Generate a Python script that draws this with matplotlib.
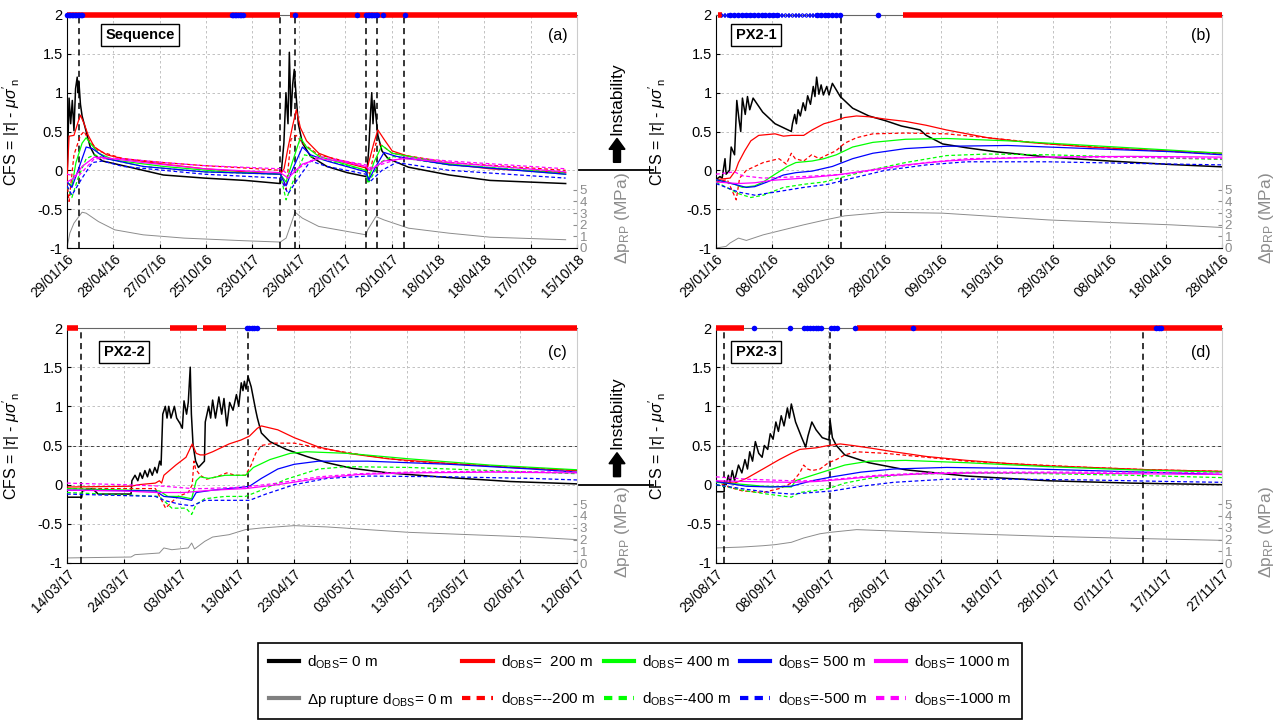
import matplotlib
matplotlib.use('Agg')
import matplotlib.pyplot as plt
from matplotlib.lines import Line2D
from matplotlib.patches import FancyArrow

plt.rcParams['font.family'] = ['Liberation Sans', 'DejaVu Sans']
plt.rcParams['mathtext.fontset'] = 'custom'
plt.rcParams['mathtext.rm'] = 'Liberation Sans'
plt.rcParams['mathtext.it'] = 'Liberation Sans:italic'
plt.rcParams['mathtext.bf'] = 'Liberation Sans:bold'

W, H = 1285, 728

# ---- tick labels (x ticks are equally spaced, days from panel start) ----
A_TICKLABELS = ['29/01/16', '28/04/16', '27/07/16', '25/10/16', '23/01/17', '23/04/17',
                '22/07/17', '20/10/17', '18/01/18', '18/04/18', '17/07/18', '15/10/18']
B_TICKLABELS = ['29/01/16', '08/02/16', '18/02/16', '28/02/16', '09/03/16', '19/03/16',
                '29/03/16', '08/04/16', '18/04/16', '28/04/16']
C_TICKLABELS = ['14/03/17', '24/03/17', '03/04/17', '13/04/17', '23/04/17', '03/05/17',
                '13/05/17', '23/05/17', '02/06/17', '12/06/17']
D_TICKLABELS = ['29/08/17', '08/09/17', '18/09/17', '28/09/17', '08/10/17', '18/10/17',
                '28/10/17', '07/11/17', '17/11/17', '27/11/17']
A_STEP, B_STEP, C_STEP, D_STEP = 90, 10, 10, 10
Y_TICKS = [-1, -0.5, 0, 0.5, 1, 1.5, 2]
Y_TICKLABELS = ['-1', '-0.5', '0', '0.5', '1', '1.5', '2']
DP_TICKS = [0, 1, 2, 3, 4, 5]

# ---- (a) Sequence: (day, CFS) ----
A_BLACK = [(0, -0.1), (1.6, 0.3), (4, 0.93), (7.1, 0.6), (10.3, 0.9), (13.5, 0.51), (16.6, 1.05),
           (19.8, 1.2), (21.4, 1.0), (23, 1.15), (26.1, 0.85), (29.3, 0.7), (37.2, 0.5), (45.1, 0.3),
           (53.1, 0.2), (68.9, 0.12), (89.5, 0.09), (187, -0.06), (267, -0.1), (346, -0.13),
           (414, -0.17), (417, 0.05), (421, 0.35), (425, 1.0), (429, 0.6), (431.6, 1.52),
           (434.8, 0.7), (438, 1.1), (441.2, 1.3), (444.3, 1.0), (449, 0.6), (457, 0.35),
           (472.8, 0.18), (504.5, 0.05), (544, -0.03), (580.5, -0.08), (582, -0.05), (586, 0.3),
           (589.3, 0.75), (591.6, 1.0), (594, 0.6), (596.4, 0.9), (599.6, 0.7), (603.5, 0.45),
           (611.4, 0.25), (623.3, 0.15), (663, 0.04), (742, -0.06), (821, -0.13), (968, -0.17)]
A_RED = [(0, -0.15), (4, 0.44), (13.5, 0.45), (21.4, 0.62), (26.1, 0.71), (33.3, 0.6), (41.2, 0.45),
         (53.1, 0.3), (76.8, 0.2), (108.5, 0.15), (187.7, 0.08), (266.9, 0.02), (346, -0.02),
         (414, -0.05), (421.4, 0.02), (429.3, 0.3), (437.2, 0.55), (445, 0.78), (453, 0.55),
         (465, 0.38), (488.7, 0.22), (528.3, 0.12), (580.5, 0.03), (583.7, 0.05), (595.6, 0.35),
         (603.5, 0.52), (615.4, 0.4), (631.2, 0.25), (663, 0.18), (742, 0.08), (821, 0.02),
         (968, -0.03)]
A_RED_D = [(0, -0.15), (4, -0.4), (13.5, 0.2), (26.1, 0.45), (33.3, 0.5), (41.2, 0.4), (61, 0.25),
           (108.5, 0.15), (187.7, 0.1), (266.9, 0.06), (346, 0.03), (414, 0.0), (425.3, -0.25),
           (434.8, 0.4), (445, 0.45), (457, 0.35), (488.7, 0.2), (580.5, 0.05), (587.7, -0.05),
           (599.6, 0.35), (611.4, 0.32), (631.2, 0.22), (742, 0.1), (968, 0.0)]
A_GREEN = [(0, -0.15), (9.5, -0.2), (17.4, 0.1), (29.3, 0.35), (37.2, 0.42), (45.1, 0.35), (61, 0.22),
           (92.7, 0.13), (187.7, 0.05), (306.5, -0.02), (414, -0.05), (425.3, -0.15), (437.2, 0.1),
           (453, 0.42), (465, 0.3), (488.7, 0.18), (580.5, 0.0), (583.7, -0.15), (595.6, 0.1),
           (611.4, 0.32), (631.2, 0.22), (742, 0.08), (968, -0.05)]
A_GREEN_D = [(0, -0.2), (9.5, -0.35), (21.4, -0.1), (37.2, 0.15), (53.1, 0.2), (76.8, 0.15),
             (148, 0.05), (266.9, -0.02), (414, -0.05), (425.3, -0.38), (441.2, -0.1), (461, 0.2),
             (488.7, 0.15), (580.5, 0.0), (586, -0.15), (607.5, 0.1), (631.2, 0.18), (742, 0.07),
             (968, -0.03)]
A_BLUE = [(0, -0.15), (9.5, -0.22), (21.4, 0.0), (37.2, 0.3), (49.1, 0.28), (76.8, 0.15), (148, 0.05),
          (266.9, -0.02), (414, -0.05), (425.3, -0.2), (437.2, 0.0), (457, 0.3), (472.8, 0.2),
          (504.5, 0.12), (580.5, -0.02), (586, -0.12), (599.6, 0.05), (615.4, 0.23), (639.2, 0.18),
          (742, 0.07), (968, -0.05)]
A_BLUE_D = [(0, -0.2), (9.5, -0.32), (29.3, -0.1), (49.1, 0.1), (68.9, 0.12), (108.5, 0.05),
            (266.9, -0.05), (414, -0.1), (429.3, -0.3), (449, -0.1), (472.8, 0.12), (504.5, 0.05),
            (580.5, -0.05), (587.7, -0.15), (611.4, 0.0), (639.2, 0.1), (742, 0.0), (968, -0.1)]
A_MAG = [(0, -0.15), (13.5, -0.1), (29.3, 0.05), (53.1, 0.17), (76.8, 0.16), (148, 0.1),
         (266.9, 0.02), (414, -0.03), (429.3, -0.1), (457, 0.08), (488.7, 0.15), (528.3, 0.12),
         (580.5, 0.05), (587.7, 0.0), (615.4, 0.12), (655, 0.15), (742, 0.1), (968, -0.02)]
A_MAG_D = [(0, -0.05), (21.4, -0.08), (53.1, 0.15), (108.5, 0.15), (187.7, 0.1), (266.9, 0.06),
           (414, 0.02), (429.3, -0.05), (488.7, 0.18), (580.5, 0.07), (587.7, 0.03), (655, 0.17),
           (742, 0.12), (968, 0.02)]
A_DP = [(0, 0), (5.5, 1.28), (13.5, 2.13), (23, 2.7), (29.3, 3.07), (37.2, 2.99), (61, 2.27),
        (92.7, 1.56), (148, 1.13), (227, 0.85), (346, 0.62), (414, 0.51), (425.3, 0.85),
        (433.2, 1.85), (442.7, 3.07), (457, 2.56), (488.7, 1.85), (544, 1.42), (580.5, 1.13),
        (583.7, 1.56), (599.6, 2.7), (615.4, 2.41), (663, 1.7), (742, 1.27), (821, 0.93), (968, 0.71)]
A_EVENTS = [23, 414, 443, 581, 601, 655]
A_RED_SPANS = [(0, 414), (432, 990)]
A_BLUE_DOTS = [0.5, 3, 6, 9, 12, 15, 18, 21, 24, 27, 30, 320, 323, 326, 329, 332, 335, 338, 341,
               443, 563, 581, 584, 587, 590, 593, 596, 599, 601, 614, 657]
A_BLUE_X = []

# ---- (b) PX2-1 ----
B_BLACK = [(0, -0.12), (0.7, -0.08), (1.1, -0.1), (1.6, 0.15), (1.8, -0.05), (2.4, 0.0), (2.7, 0.3),
           (3.3, 0.2), (3.7, 0.9), (4.1, 0.65), (4.4, 0.5), (4.7, 0.93), (5.2, 0.72), (5.6, 0.95),
           (6.0, 0.78), (6.6, 0.93), (8.3, 0.75), (10.5, 0.6), (13.4, 0.5), (13.6, 0.6), (14.0, 0.72),
           (14.3, 0.6), (14.6, 0.78), (15.0, 0.7), (15.5, 0.87), (15.9, 0.77), (16.3, 0.96),
           (16.8, 0.85), (17.3, 1.08), (17.6, 0.95), (17.9, 1.2), (18.3, 0.98), (18.7, 1.1),
           (19.1, 0.97), (19.7, 1.08), (20.1, 0.97), (20.7, 1.12), (22.1, 0.95), (24.3, 0.8),
           (27.2, 0.7), (30.1, 0.64), (33.0, 0.57), (36.3, 0.52), (37.4, 0.45), (40.3, 0.34),
           (44.6, 0.29), (49.7, 0.24), (59.1, 0.17), (70.0, 0.12), (80.9, 0.075), (90, 0.045)]
B_RED = [(0, -0.12), (2.5, -0.1), (3.5, 0.0), (4.0, 0.1), (5.1, 0.25), (6.2, 0.38), (7.6, 0.45),
         (10.5, 0.47), (12, 0.44), (13.4, 0.45), (15.6, 0.45), (17.1, 0.52), (19.2, 0.6), (20.7, 0.63),
         (22.9, 0.68), (25.0, 0.7), (27.2, 0.69), (30.1, 0.66), (33.7, 0.63), (37.4, 0.58),
         (41.0, 0.52), (48.3, 0.42), (55.5, 0.36), (66.4, 0.3), (77.3, 0.26), (90, 0.22)]
B_RED_D = [(0, -0.15), (2.0, -0.12), (3.6, -0.38), (4.2, -0.1), (5.4, 0.0), (8.4, 0.1), (11.2, 0.15),
           (12.5, 0.08), (13.4, 0.22), (14.1, 0.15), (15.6, 0.12), (17.0, 0.2), (18.4, 0.15),
           (19.8, 0.2), (21.3, 0.25), (22.9, 0.35), (25.0, 0.42), (27.9, 0.47), (33.7, 0.48),
           (41.0, 0.47), (48.3, 0.42), (59.1, 0.34), (73.7, 0.27), (90, 0.21)]
B_GREEN = [(0, -0.12), (3.3, -0.18), (4.7, -0.22), (6.9, -0.2), (8.4, -0.15), (10.5, -0.05),
           (12.7, 0.05), (14.2, 0.1), (17.1, 0.12), (19.2, 0.15), (21.4, 0.2), (24.3, 0.3),
           (27.9, 0.36), (33.7, 0.4), (41, 0.41), (51.9, 0.38), (66.4, 0.32), (80.9, 0.26), (90, 0.22)]
B_GREEN_D = [(0, -0.15), (4.0, -0.3), (6.2, -0.35), (8.4, -0.32), (12.0, -0.22), (15.6, -0.18),
             (19.2, -0.15), (22.9, -0.08), (27.2, 0.0), (33.7, 0.1), (41, 0.19), (48.3, 0.21),
             (59.1, 0.2), (73.7, 0.17), (90, 0.14)]
B_BLUE = [(0, -0.12), (3.3, -0.18), (5.4, -0.22), (6.9, -0.21), (9.1, -0.15), (12.0, -0.06),
          (14.2, -0.03), (17.1, -0.01), (20.7, 0.05), (24.3, 0.15), (27.9, 0.22), (33.7, 0.28),
          (41, 0.31), (51.9, 0.32), (66.4, 0.28), (80.9, 0.24), (90, 0.2)]
B_BLUE_D = [(0, -0.17), (4.0, -0.28), (6.9, -0.32), (10.5, -0.28), (15.6, -0.22), (19.9, -0.18),
            (24.3, -0.1), (30.1, 0.0), (37.4, 0.07), (44.6, 0.11), (59.1, 0.11), (73.7, 0.09),
            (90, 0.07)]
B_MAG = [(0, -0.15), (4.0, -0.17), (6.9, -0.16), (9.8, -0.13), (15.6, -0.1), (21.4, -0.06),
         (27.2, 0.0), (33.7, 0.07), (41, 0.12), (48.3, 0.15), (59.1, 0.17), (73.7, 0.18), (90, 0.17)]
B_MAG_D = [(0, -0.05), (3.3, -0.02), (4.7, -0.07), (8.4, -0.1), (15.6, -0.08), (22.9, -0.05),
           (30.1, 0.02), (37.4, 0.1), (44.6, 0.15), (59.1, 0.17), (73.7, 0.17), (90, 0.15)]
B_DP = [(0, 0), (1.8, 0.14), (2.5, 0.43), (4.0, 0.85), (5.4, 0.65), (8.4, 1.13), (12.0, 1.56),
        (15.6, 1.99), (20.0, 2.47), (22.9, 2.76), (30.1, 3.07), (40.3, 2.99), (49.7, 2.7),
        (59.1, 2.41), (70.0, 2.19), (80.9, 1.99), (90, 1.76)]
B_EVENTS = [22.3]
B_RED_SPANS = [(0.3, 1.0), (33.3, 90)]
B_BLUE_DOTS = [2.5, 3.2, 3.9, 4.6, 5.3, 6.0, 6.7, 7.4, 8.1, 8.8, 9.5, 10.2, 10.8,
               18.0, 18.6, 19.3, 20.0, 20.6, 21.3, 22.0, 28.8]
B_BLUE_X = [1.2, 1.8, 2.4, 3.0, 3.6, 4.2, 4.8, 5.4, 6.0, 6.6, 7.2, 7.8, 8.4, 9.0, 9.6, 10.2,
            10.8, 11.4, 12.0, 12.6, 13.2, 13.8, 14.4, 15.0, 15.7, 16.3, 16.9, 17.4, 17.9]

# ---- (c) PX2-2 ----
C_BLACK = [(0, -0.16), (2.6, -0.16), (2.7, -0.08), (4.5, -0.05), (5.5, -0.12), (11.3, -0.12),
           (11.45, 0.05), (12.0, 0.12), (12.5, 0.05), (12.9, 0.15), (13.3, 0.08), (13.75, 0.18),
           (14.2, 0.1), (14.6, 0.2), (15.05, 0.12), (15.5, 0.22), (15.9, 0.15), (16.35, 0.3),
           (16.6, 0.25), (16.9, 0.9), (17.35, 1.0), (17.65, 0.85), (17.95, 1.0), (18.35, 0.85),
           (18.95, 1.0), (19.35, 0.85), (19.95, 0.78), (20.35, 0.72), (20.65, 1.07), (21.1, 0.9),
           (21.4, 1.05), (21.75, 1.5), (21.95, 0.9), (22.25, 0.5), (22.7, 0.3), (23.2, 0.22),
           (24.25, 0.3), (24.4, 0.8), (25.0, 1.0), (25.35, 0.85), (25.7, 1.08), (26.2, 0.85),
           (26.8, 1.12), (27.3, 0.9), (27.7, 1.1), (28.2, 0.75), (28.7, 1.05), (29.3, 0.95),
           (29.9, 1.15), (30.3, 1.0), (30.75, 1.3), (31.05, 1.2), (31.3, 1.32), (31.6, 1.22),
           (31.95, 1.38), (32.5, 1.25), (32.9, 1.1), (33.3, 0.95), (33.6, 0.85), (34.3, 0.66),
           (35.8, 0.55), (38.7, 0.45), (42.3, 0.36), (45.9, 0.28), (50.2, 0.21), (56.7, 0.15),
           (67.5, 0.09), (78.3, 0.04), (90, 0.01)]
C_RED = [(0, -0.03), (11.3, -0.02), (12.7, 0.0), (15.6, 0.02), (16.3, 0.05), (16.7, 0.02),
         (17.1, 0.12), (19.2, 0.25), (21.0, 0.35), (22.1, 0.52), (22.8, 0.4), (23.5, 0.38),
         (24.3, 0.38), (25.7, 0.42), (28.6, 0.52), (30.7, 0.57), (32.2, 0.62), (33.6, 0.72),
         (34.3, 0.75), (37.2, 0.7), (40.1, 0.6), (44.4, 0.48), (49.5, 0.4), (56.7, 0.33),
         (67.5, 0.27), (78.3, 0.22), (90, 0.18)]
C_RED_D = [(0, -0.05), (15.6, -0.05), (16.7, -0.2), (17.4, -0.3), (18.5, -0.22), (19.6, -0.15),
           (21.4, -0.1), (22.1, 0.0), (22.4, 0.3), (22.7, 0.2), (23.5, 0.12), (24.6, 0.07),
           (26.4, 0.1), (28.2, 0.15), (29.7, 0.12), (31.5, 0.12), (32.5, 0.25), (33.3, 0.4),
           (34.3, 0.5), (36.5, 0.53), (40.1, 0.53), (45.9, 0.45), (53.1, 0.37), (60.3, 0.3),
           (74.7, 0.24), (90, 0.18)]
C_GREEN = [(0, -0.05), (16.3, -0.08), (17.8, -0.15), (19.9, -0.15), (22.0, -0.18), (22.8, 0.05),
           (23.5, 0.1), (25.0, 0.08), (27.9, 0.12), (31.5, 0.12), (32.9, 0.22), (35.8, 0.32),
           (39.4, 0.4), (42.3, 0.42), (49.5, 0.4), (60.3, 0.33), (74.7, 0.25), (90, 0.19)]
C_GREEN_D = [(0, -0.1), (16.3, -0.15), (18.5, -0.3), (21.0, -0.3), (22.0, -0.38), (22.8, -0.25),
             (24.3, -0.18), (27.9, -0.15), (31.5, -0.15), (34.3, -0.07), (38.7, 0.07), (44.4, 0.2),
             (49.5, 0.23), (60.3, 0.22), (74.7, 0.18), (90, 0.14)]
C_BLUE = [(0, -0.07), (15.6, -0.08), (17.1, -0.15), (19.9, -0.17), (22.0, -0.2), (22.8, -0.1),
          (25.7, -0.07), (30.0, -0.04), (32.2, -0.02), (34.3, 0.08), (37.2, 0.2), (40.1, 0.26),
          (44.4, 0.3), (53.1, 0.3), (67.5, 0.26), (81.9, 0.2), (90, 0.16)]
C_BLUE_D = [(0, -0.12), (15.6, -0.15), (17.1, -0.2), (19.9, -0.25), (22.1, -0.27), (24.3, -0.2),
            (28.6, -0.2), (32.2, -0.2), (35.1, -0.12), (40.1, 0.0), (45.9, 0.08), (53.1, 0.11),
            (67.5, 0.1), (81.9, 0.08), (90, 0.06)]
C_MAG = [(0, -0.07), (9.9, -0.08), (15.6, -0.1), (20.7, -0.1), (25.7, -0.07), (31.5, -0.05),
         (37.2, 0.0), (44.4, 0.08), (51.6, 0.13), (60.3, 0.15), (74.7, 0.16), (90, 0.15)]
C_MAG_D = [(0, 0.02), (9.9, 0.0), (17.1, -0.02), (22.1, -0.05), (24.3, -0.05), (31.5, -0.03),
           (37.2, 0.02), (44.4, 0.1), (51.6, 0.14), (60.3, 0.16), (74.7, 0.17), (90, 0.16)]
C_DP = [(0, 0.43), (11.3, 0.51), (12.0, 0.71), (16.3, 0.85), (17.1, 1.28), (18.5, 1.13),
        (21.4, 1.28), (22.0, 1.7), (22.5, 1.19), (24.3, 1.84), (25.7, 2.21), (28.6, 2.41),
        (31.5, 2.84), (34.3, 2.98), (40.1, 3.18), (45.9, 3.07), (53.1, 2.84), (60.3, 2.61),
        (71.1, 2.41), (81.9, 2.21), (90, 1.99)]
C_EVENTS = [2.45, 32]
C_RED_SPANS = [(0, 1.9), (18.1, 23), (24, 28), (37.1, 90)]
C_BLUE_DOTS = [31.8, 32.2, 32.6, 33.0, 33.5]
C_BLUE_X = []

# ---- (d) PX2-3 ----
D_BLACK = [(0, -0.09), (1.45, -0.09), (1.5, 0.05), (1.8, 0.0), (2.2, 0.12), (2.5, 0.02), (2.9, 0.18),
           (3.3, 0.05), (4.0, 0.25), (4.6, 0.15), (5.15, 0.32), (5.6, 0.2), (6.0, 0.42), (6.5, 0.3),
           (7.0, 0.55), (7.6, 0.4), (8.2, 0.35), (8.6, 0.5), (9.2, 0.45), (9.65, 0.65), (10.15, 0.58),
           (10.65, 0.8), (11.1, 0.68), (11.6, 0.88), (12.1, 0.75), (12.7, 0.98), (13.05, 0.85),
           (13.4, 1.03), (14.15, 0.8), (15.25, 0.6), (15.95, 0.48), (16.35, 0.62), (17.05, 0.8),
           (17.8, 0.7), (18.9, 0.6), (20.1, 0.57), (20.3, 0.82), (20.7, 0.6), (21.4, 0.5),
           (22.9, 0.38), (27.2, 0.28), (33.7, 0.19), (44.6, 0.11), (59.1, 0.05), (73.7, 0.02),
           (90, 0.0)]
D_RED = [(0, 0.04), (3.3, 0.02), (5.4, 0.08), (8.35, 0.2), (11.25, 0.32), (13.4, 0.4), (14.9, 0.45),
         (16.3, 0.46), (17.8, 0.47), (20.0, 0.5), (22.1, 0.52), (24.3, 0.5), (27.2, 0.47),
         (31.6, 0.42), (37.4, 0.36), (44.6, 0.31), (51.9, 0.27), (59.1, 0.24), (66.4, 0.22),
         (77.3, 0.19), (90, 0.17)]
D_RED_D = [(0, 0.05), (1.8, -0.02), (4.7, -0.08), (8.35, -0.1), (11.25, -0.05), (13.4, 0.02),
           (14.9, 0.15), (15.6, 0.25), (16.3, 0.2), (17.05, 0.18), (18.5, 0.2), (20.0, 0.28),
           (21.4, 0.32), (22.9, 0.38), (25.0, 0.42), (30.1, 0.4), (37.4, 0.35), (44.6, 0.3),
           (51.9, 0.27), (66.4, 0.22), (77.3, 0.19), (90, 0.17)]
D_GREEN = [(0, 0.03), (5.4, 0.0), (8.35, -0.02), (13.4, -0.03), (14.15, 0.05), (16.3, 0.1),
           (18.5, 0.15), (20.7, 0.2), (22.9, 0.25), (27.2, 0.3), (33.7, 0.31), (44.6, 0.28),
           (59.1, 0.23), (73.7, 0.19), (90, 0.16)]
D_GREEN_D = [(0, 0.0), (5.4, -0.08), (9.1, -0.12), (13.4, -0.16), (14.9, -0.1), (17.05, -0.08),
             (20.0, -0.05), (22.9, 0.02), (27.2, 0.08), (33.7, 0.13), (44.6, 0.15), (59.1, 0.14),
             (73.7, 0.12), (90, 0.09)]
D_BLUE = [(0, 0.04), (5.4, -0.02), (9.8, -0.03), (13.4, -0.02), (17.05, 0.05), (20.7, 0.1),
          (25.8, 0.16), (31.6, 0.2), (41, 0.22), (51.9, 0.21), (66.4, 0.18), (80.9, 0.15), (90, 0.13)]
D_BLUE_D = [(0, 0.0), (5.4, -0.06), (9.8, -0.1), (13.4, -0.12), (17.05, -0.1), (20.7, -0.08),
            (25.8, -0.02), (31.6, 0.03), (41, 0.07), (51.9, 0.07), (66.4, 0.06), (80.9, 0.04),
            (90, 0.03)]
D_MAG = [(0, 0.05), (5.4, 0.04), (13.4, 0.03), (17.8, 0.04), (22.9, 0.07), (28.7, 0.11), (37.4, 0.14),
         (48.3, 0.15), (59.1, 0.15), (73.7, 0.14), (90, 0.13)]
D_MAG_D = [(0, 0.1), (5.4, 0.07), (13.4, 0.05), (17.8, 0.05), (22.9, 0.08), (28.7, 0.12),
           (37.4, 0.15), (48.3, 0.16), (59.1, 0.16), (73.7, 0.16), (90, 0.15)]
D_DP = [(0, 1.28), (4.7, 1.36), (8.35, 1.47), (10.5, 1.56), (13.4, 1.76), (15.6, 2.13), (18.5, 2.49),
        (20.3, 2.61), (25.0, 2.84), (30.1, 2.75), (37.4, 2.61), (44.6, 2.49), (51.9, 2.38),
        (59.1, 2.27), (73.7, 2.1), (90, 1.93)]
D_EVENTS = [1.45, 20.3, 76]
D_RED_SPANS = [(0, 4.9), (25, 90)]
D_BLUE_DOTS = [6.8, 13.2, 15.7, 16.2, 16.7, 17.2, 17.7, 18.2, 18.7, 20.5, 21.0, 21.6, 24.8, 35.1,
               78.3, 78.8, 79.2]
D_BLUE_X = []

NAMES = ['Sequence', 'PX2-1', 'PX2-2', 'PX2-3']
LETTERS = ['(a)', '(b)', '(c)', '(d)']

LEG_LABELS = [r'd$_{\rm OBS}$= 0 m', r'$\Delta$p rupture d$_{\rm OBS}$= 0 m',
              r'd$_{\rm OBS}$=  200 m', r'd$_{\rm OBS}$=--200 m',
              r'd$_{\rm OBS}$= 400 m', r'd$_{\rm OBS}$=-400 m',
              r'd$_{\rm OBS}$= 500 m', r'd$_{\rm OBS}$=-500 m',
              r'd$_{\rm OBS}$= 1000 m', r'd$_{\rm OBS}$=-1000 m']

DASH = (0, (3, 2))
# curve order: 0 m, 200, -200, 400, -400, 500, -500, 1000, -1000
STYLES = [('black', '-', 1.1), ('red', '-', 0.9), ('red', DASH, 0.9),
          ('#00ff00', '-', 0.9), ('#00ff00', DASH, 0.9), ('blue', '-', 0.9), ('blue', DASH, 0.9),
          ('magenta', '-', 0.9), ('magenta', DASH, 0.9)]
GREY = '0.55'


def xy(pts):
    return [p[0] for p in pts], [p[1] for p in pts]


def draw_panel(ax, curves, dp, events, ticklabels, step, red_spans, dots, crosses,
               name, name_pos, letter, letter_pos, dark_half):
    xmax = step * (len(ticklabels) - 1)
    ax.set_xlim(0, xmax)
    ax.set_ylim(-1, 2)
    ax.grid(True, color='0.72', linestyle=(0, (3, 3)), linewidth=0.6)
    ax.set_axisbelow(True)
    if dark_half:
        ax.axhline(0.5, color='0.25', linestyle=(0, (3, 3)), linewidth=0.7, zorder=1)
    for e in events:
        ax.axvline(e, color='black', linestyle=(0, (4, 3)), linewidth=1.1, zorder=2)

    ax2 = ax.twinx()
    ax2.set_ylim(0, 20)
    x, y = xy(dp)
    ax2.plot(x, y, color=GREY, linewidth=0.7)
    ax2.set_yticks(DP_TICKS)
    ax2.set_yticklabels([str(t) for t in DP_TICKS])
    ax2.tick_params(axis='y', direction='in', colors=GREY, labelsize=9.5, length=3, pad=2)
    ax2.set_ylabel(r'$\Delta$p$_{\rm RP}$ (MPa)', color=GREY, fontsize=12.5)
    ax2.yaxis.set_label_coords(1.07, 0.13)
    for s in ax2.spines.values():
        s.set_visible(False)

    for pts, (c, ls, lw) in zip(curves, STYLES):
        x, y = xy(pts)
        ax.plot(x, y, color=c, linestyle=ls, linewidth=lw, zorder=3)

    for s0, s1 in red_spans:
        ax.plot([s0, s1], [2, 2], color='red', linewidth=4, solid_capstyle='butt',
                clip_on=False, zorder=6)
    if crosses:
        ax.plot(crosses, [2] * len(crosses), 'x', color='blue', markersize=3,
                markeredgewidth=0.8, clip_on=False, zorder=7)
    if dots:
        ax.plot(dots, [2] * len(dots), 'o', color='blue', markersize=4,
                markeredgewidth=0, clip_on=False, zorder=8)

    ax.set_xticks([i * step for i in range(len(ticklabels))])
    ax.set_xticklabels(ticklabels, rotation=45, ha='right', rotation_mode='anchor', fontsize=10)
    ax.set_yticks(Y_TICKS)
    ax.set_yticklabels(Y_TICKLABELS, fontsize=10.5)
    ax.tick_params(direction='in', length=3, pad=3)
    ax.set_ylabel(r"CFS = |$\tau$| - $\mu\sigma'_{\rm n}$", fontsize=11.5)
    ax.spines['right'].set_color('0.8')
    ax.spines['top'].set_color('0.4')

    ax.text(name_pos[0], name_pos[1], name, transform=ax.transAxes, ha='center', va='center',
            fontsize=10.5, fontweight='bold',
            bbox=dict(boxstyle='square,pad=0.3', facecolor='white', edgecolor='black', linewidth=1))
    ax.text(letter_pos[0], letter_pos[1], letter, transform=ax.transAxes, ha='center',
            va='center', fontsize=11.5)
    ax.set_zorder(ax2.get_zorder() + 1)
    ax.patch.set_visible(False)
    return ax


fig = plt.figure(figsize=(W / 100, H / 100), dpi=100)
ax_a = fig.add_axes([67 / W, 1 - 248 / H, 510 / W, 233 / H])
ax_b = fig.add_axes([716 / W, 1 - 248 / H, 506 / W, 233 / H])
ax_c = fig.add_axes([67 / W, 1 - 563 / H, 510 / W, 235 / H])
ax_d = fig.add_axes([716 / W, 1 - 563 / H, 506 / W, 235 / H])

draw_panel(ax_a, [A_BLACK, A_RED, A_RED_D, A_GREEN, A_GREEN_D, A_BLUE, A_BLUE_D, A_MAG, A_MAG_D],
           A_DP, A_EVENTS, A_TICKLABELS, A_STEP, A_RED_SPANS, A_BLUE_DOTS, A_BLUE_X,
           NAMES[0], (0.143, 0.914), LETTERS[0], (0.963, 0.914), False)
draw_panel(ax_b, [B_BLACK, B_RED, B_RED_D, B_GREEN, B_GREEN_D, B_BLUE, B_BLUE_D, B_MAG, B_MAG_D],
           B_DP, B_EVENTS, B_TICKLABELS, B_STEP, B_RED_SPANS, B_BLUE_DOTS, B_BLUE_X,
           NAMES[1], (0.079, 0.914), LETTERS[1], (0.958, 0.914), False)
draw_panel(ax_c, [C_BLACK, C_RED, C_RED_D, C_GREEN, C_GREEN_D, C_BLUE, C_BLUE_D, C_MAG, C_MAG_D],
           C_DP, C_EVENTS, C_TICKLABELS, C_STEP, C_RED_SPANS, C_BLUE_DOTS, C_BLUE_X,
           NAMES[2], (0.112, 0.898), LETTERS[2], (0.961, 0.894), True)
draw_panel(ax_d, [D_BLACK, D_RED, D_RED_D, D_GREEN, D_GREEN_D, D_BLUE, D_BLUE_D, D_MAG, D_MAG_D],
           D_DP, D_EVENTS, D_TICKLABELS, D_STEP, D_RED_SPANS, D_BLUE_DOTS, D_BLUE_X,
           NAMES[3], (0.079, 0.898), LETTERS[3], (0.958, 0.894), True)

ax_a.yaxis.set_label_coords(-0.088, 0.5)
ax_c.yaxis.set_label_coords(-0.088, 0.5)
ax_b.yaxis.set_label_coords(-0.095, 0.5)
ax_d.yaxis.set_label_coords(-0.095, 0.5)

# "Instability" markers between the columns, at CFS = 0
for ax in (ax_a, ax_c):
    pos = ax.get_position()
    y0 = pos.y0 + pos.height / 3
    fig.add_artist(Line2D([579 / W, 653 / W], [y0, y0], color='black', linewidth=1.3))
    fig.add_artist(FancyArrow(617 / W, y0 + 8 / H, 0, 24 / H, width=7 / W, head_width=16 / W,
                              head_length=11 / H, length_includes_head=True, color='black',
                              transform=fig.transFigure))
    fig.text(617 / W, y0 + 72 / H, 'Instability', rotation=90, ha='center', va='center',
             fontsize=12.5)

handles = [Line2D([], [], color='black', linewidth=3),
           Line2D([], [], color='0.5', linewidth=3),
           Line2D([], [], color='red', linewidth=3),
           Line2D([], [], color='red', linewidth=3, linestyle=(0, (2, 1.5))),
           Line2D([], [], color='#00ff00', linewidth=3),
           Line2D([], [], color='#00ff00', linewidth=3, linestyle=(0, (2, 1.5))),
           Line2D([], [], color='blue', linewidth=3),
           Line2D([], [], color='blue', linewidth=3, linestyle=(0, (2, 1.5))),
           Line2D([], [], color='magenta', linewidth=3),
           Line2D([], [], color='magenta', linewidth=3, linestyle=(0, (2, 1.5)))]
leg = fig.legend(handles, LEG_LABELS, ncol=5, loc='center',
                 bbox_to_anchor=(258 / W, 1 - 726 / H, 764 / W, 90 / H), mode='expand',
                 fontsize=11, frameon=True, fancybox=False, edgecolor='black', framealpha=1,
                 handlelength=2.0, handletextpad=0.5, columnspacing=0.3, labelspacing=1.3,
                 borderpad=0.7, borderaxespad=0)
leg.get_frame().set_linewidth(1.2)

fig.savefig('out.png', dpi=100)
